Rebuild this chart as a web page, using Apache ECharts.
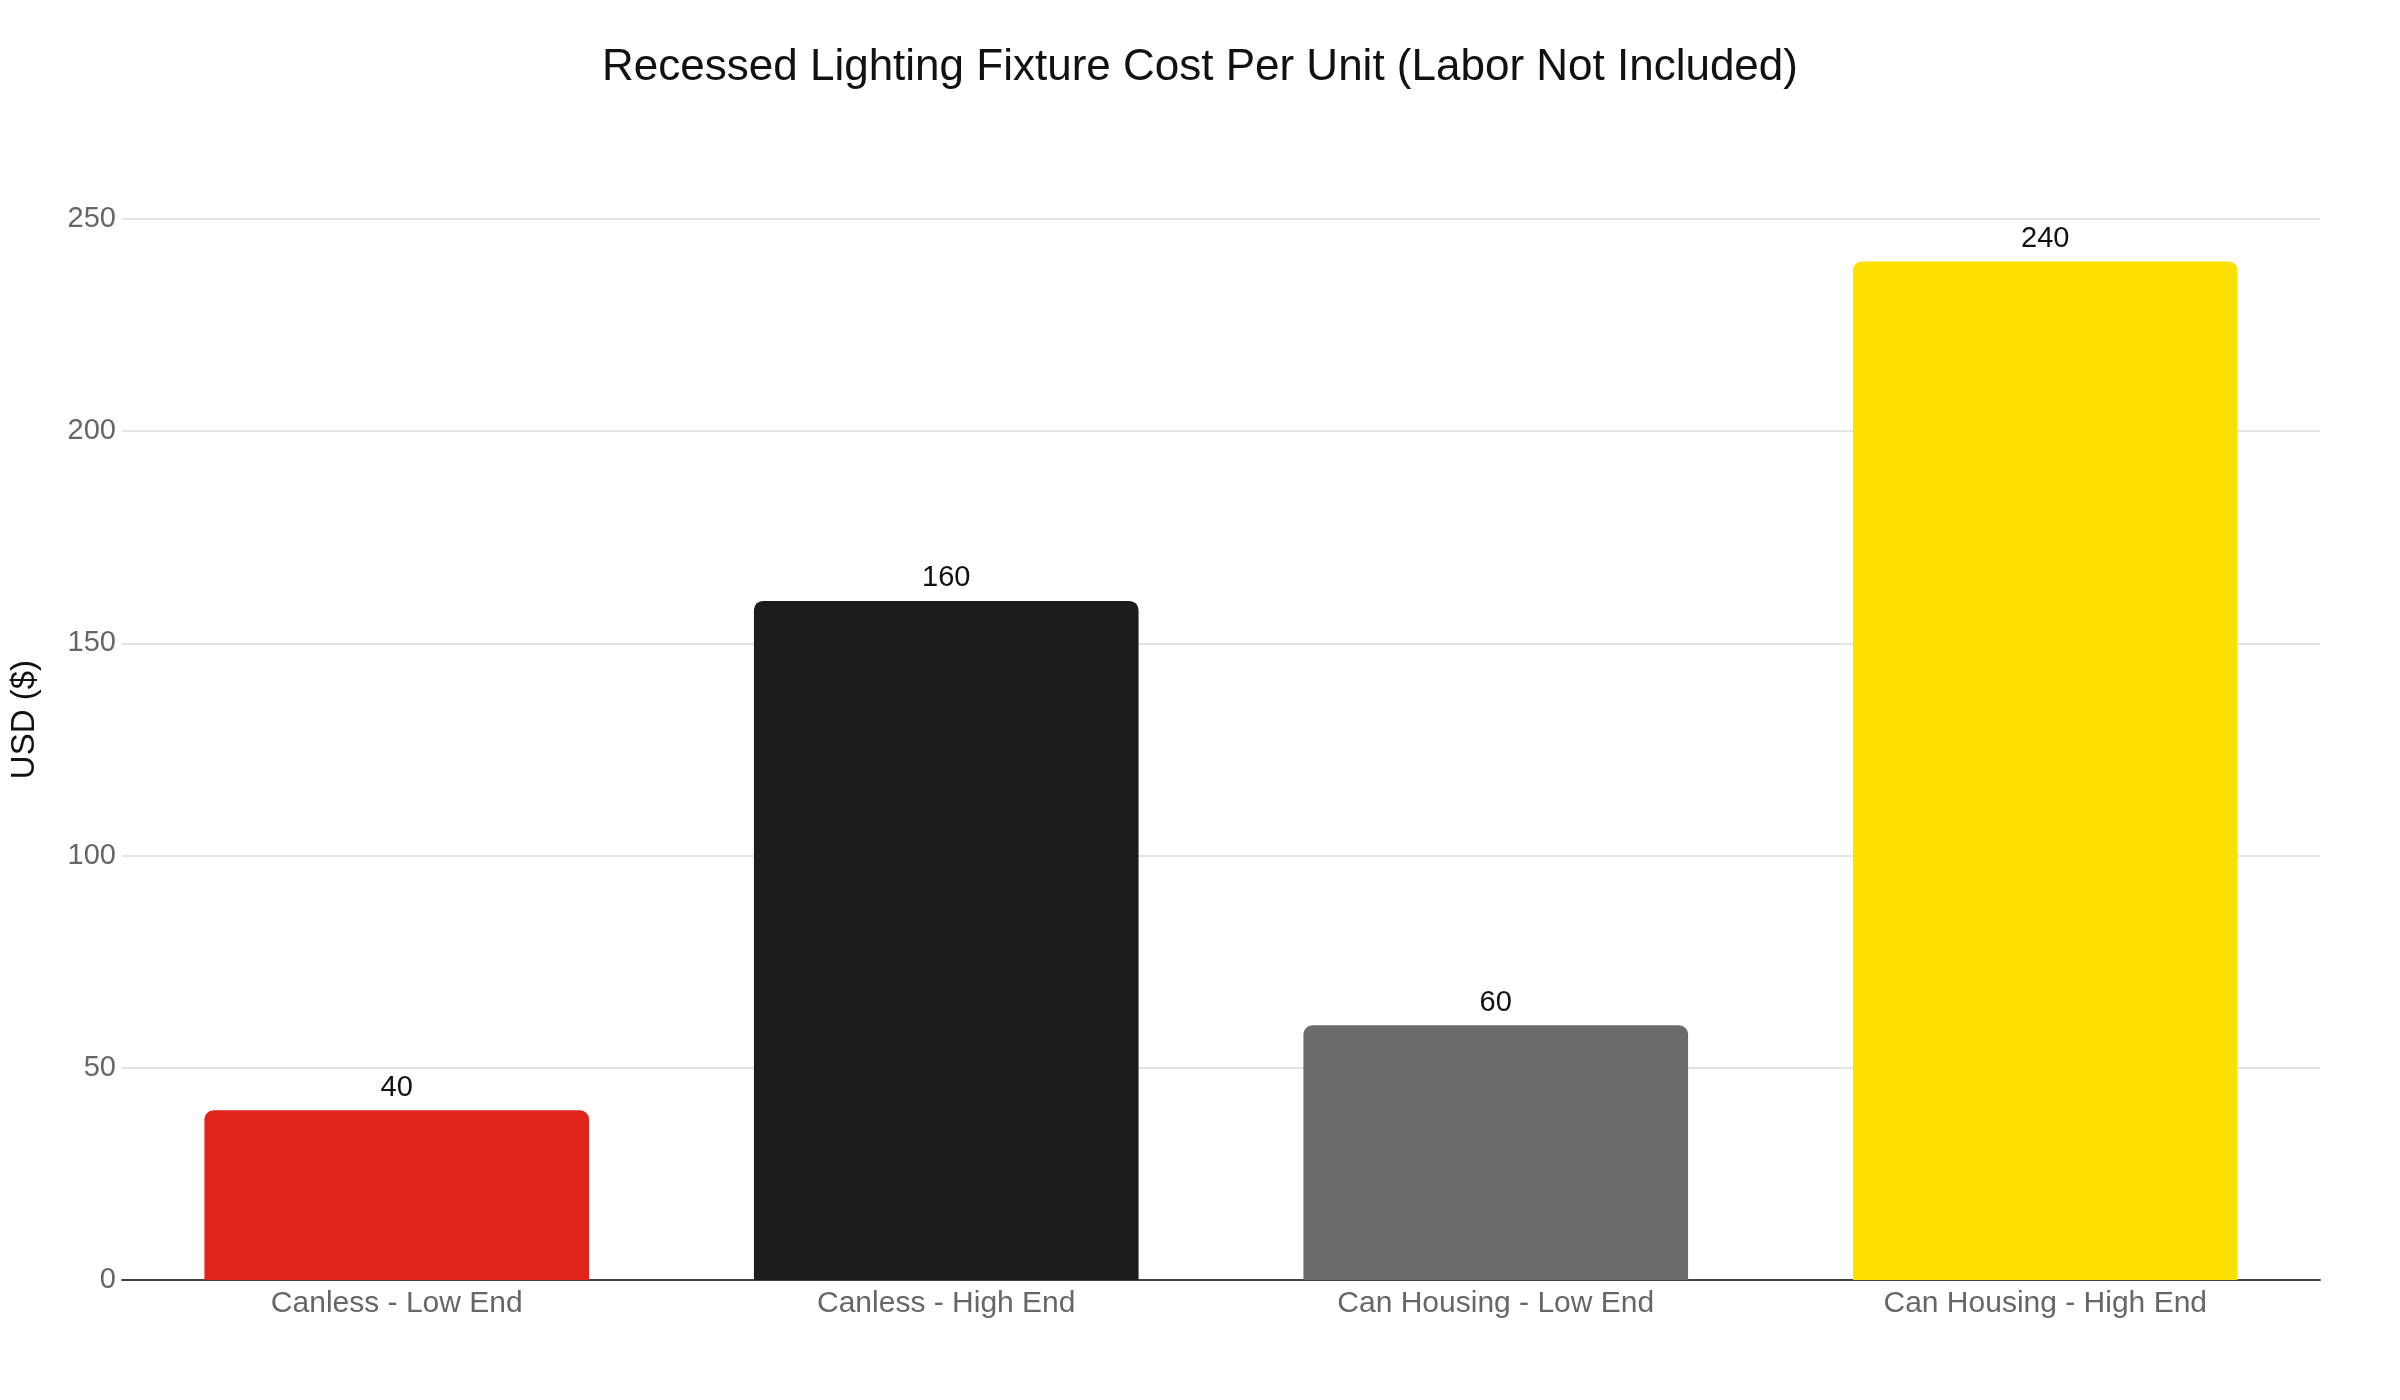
<!DOCTYPE html>
<html>
<head>
<meta charset="utf-8">
<script src="https://cdn.jsdelivr.net/npm/echarts@6/dist/echarts.min.js"></script>
<style>
html, body { margin: 0; padding: 0; background: #fff; }
#chart { width: 2400px; height: 1400px; }
</style>
</head>
<body>
<div id="chart"></div>
<script>
var categories = ['Canless - Low End', 'Canless - High End', 'Can Housing - Low End', 'Can Housing - High End'];
var costs = [40, 160, 60, 240];
var barColors = ['#e0241b', '#1c1c1c', '#6b6b6b', '#fce000'];
var yTicks = [0, 50, 100, 150, 200, 250];

var myChart = echarts.init(document.getElementById('chart'));

var option = {
    backgroundColor: '#fff',
    textStyle: { fontFamily: 'Liberation Sans, Arial, sans-serif' },
    title: {
        text: 'Recessed Lighting Fixture Cost Per Unit (Labor Not Included)',
        left: 'center',
        top: 41,
        textStyle: { fontSize: 44, fontWeight: 'normal', color: '#111' }
    },
    // y axis title placed by hand, it sits a bit above the plot middle
    graphic: [{
        type: 'text',
        left: 8,
        top: 660,
        rotation: Math.PI / 2,
        style: { text: 'USD ($)', fontSize: 33, fill: '#111', fontFamily: 'Liberation Sans, Arial, sans-serif' }
    }],
    grid: { left: 122, right: 80, top: 219, bottom: 120 },
    xAxis: {
        type: 'category',
        data: categories,
        axisTick: { show: false },
        axisLine: { lineStyle: { color: '#444', width: 2 } },
        axisLabel: { fontSize: 30, color: '#666', margin: 9 }
    },
    yAxis: {
        type: 'value',
        min: yTicks[0],
        max: yTicks[yTicks.length - 1],
        interval: 50,
        axisLine: { show: false },
        axisTick: { show: false },
        axisLabel: { fontSize: 29, color: '#666', margin: 6 },
        splitLine: { lineStyle: { color: '#e3e3e3', width: 2 } }
    },
    series: [{
        type: 'bar',
        barCategoryGap: '30%',
        data: costs.map(function (v, i) {
            return { value: v, itemStyle: { color: barColors[i] } };
        }),
        itemStyle: { borderRadius: [9, 9, 0, 0] },
        label: { show: true, position: 'top', fontSize: 29, color: '#111', distance: 8 }
    }]
};
myChart.setOption(option, true);
</script>
</body>
</html>
